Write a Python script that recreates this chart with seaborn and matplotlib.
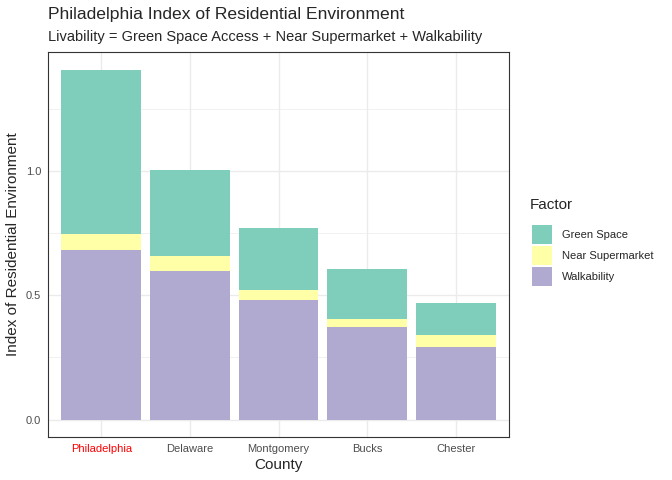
import matplotlib
matplotlib.use("Agg")
import matplotlib.pyplot as plt
import pandas as pd
import seaborn as sns
from matplotlib.patches import Patch
from matplotlib.ticker import MultipleLocator

counties = ["Philadelphia", "Delaware", "Montgomery", "Bucks", "Chester"]
walkability = [0.683, 0.598, 0.482, 0.373, 0.293]
near_supermarket = [0.065, 0.061, 0.040, 0.033, 0.048]
green_space = [0.662, 0.345, 0.249, 0.200, 0.129]

factors = ["Green Space", "Near Supermarket", "Walkability"]
colors = ["#7FCDBB", "#FFFFA8", "#B0AAD0"]

df = pd.DataFrame({
    "County": counties,
    "walk": walkability,
    "near": near_supermarket,
    "green": green_space,
})
df["walk_near"] = df["walk"] + df["near"]
df["total"] = df["walk_near"] + df["green"]

sns.set_style("whitegrid")
plt.rcParams["font.family"] = ["Liberation Sans", "DejaVu Sans"]

fig = plt.figure(figsize=(6.72, 4.8), dpi=100)
ax = fig.add_axes([48 / 672, 1 - 437 / 480, (509 - 48) / 672, (437 - 52) / 480])

# stacked bars drawn as cumulative layers, back to front
for col, color in zip(["total", "walk_near", "walk"], colors):
    sns.barplot(data=df, x="County", y=col, color=color, width=0.9,
                saturation=1, ax=ax, zorder=2, edgecolor="none")

ax.set_xlim(-0.6, 4.6)
top = df["total"].max()
ax.set_ylim(-0.05 * top, 1.05 * top)
ax.yaxis.set_major_locator(MultipleLocator(0.5))
ax.yaxis.set_minor_locator(MultipleLocator(0.25))
ax.set_yticklabels([f"{v:.1f}" for v in ax.get_yticks()])
ax.grid(True, which="major", color="#EBEBEB", linewidth=1.0, zorder=0)
ax.grid(True, which="minor", axis="y", color="#EBEBEB", linewidth=0.5, zorder=0)
ax.set_axisbelow(True)
for s in ax.spines.values():
    s.set_visible(True)
    s.set_color("#333333")
    s.set_linewidth(0.8)

ax.tick_params(axis="both", which="major", length=3, color="#333333",
               labelsize=8, labelcolor="#4D4D4D", pad=2)
ax.tick_params(axis="y", which="minor", length=0)
ax.get_xticklabels()[0].set_color("red")

ax.set_xlabel("County", fontsize=11, labelpad=3)
ax.set_ylabel("Index of Residential Environment", fontsize=11, labelpad=4)

fig.text(48 / 672, 1 - 15 / 480, "Philadelphia Index of Residential Environment",
         fontsize=12.6, va="center", ha="left")
fig.text(48 / 672, 1 - 37 / 480,
         "Livability = Green Space Access + Near Supermarket + Walkability",
         fontsize=10.5, va="center", ha="left")

# legend title as its own text, entries below it
fig.text(530 / 672, 1 - 205 / 480, "Factor", fontsize=11, va="center", ha="left")
handles = [Patch(facecolor=c, edgecolor="none") for c in colors]
fig.legend(handles, factors, loc="upper left",
           bbox_to_anchor=(522 / 672, 1 - 215 / 480), frameon=False,
           fontsize=8, handlelength=1.8, handleheight=2.2,
           labelspacing=0.22, handletextpad=0.9)

fig.savefig("out.png", dpi=100)
plt.close("all")
